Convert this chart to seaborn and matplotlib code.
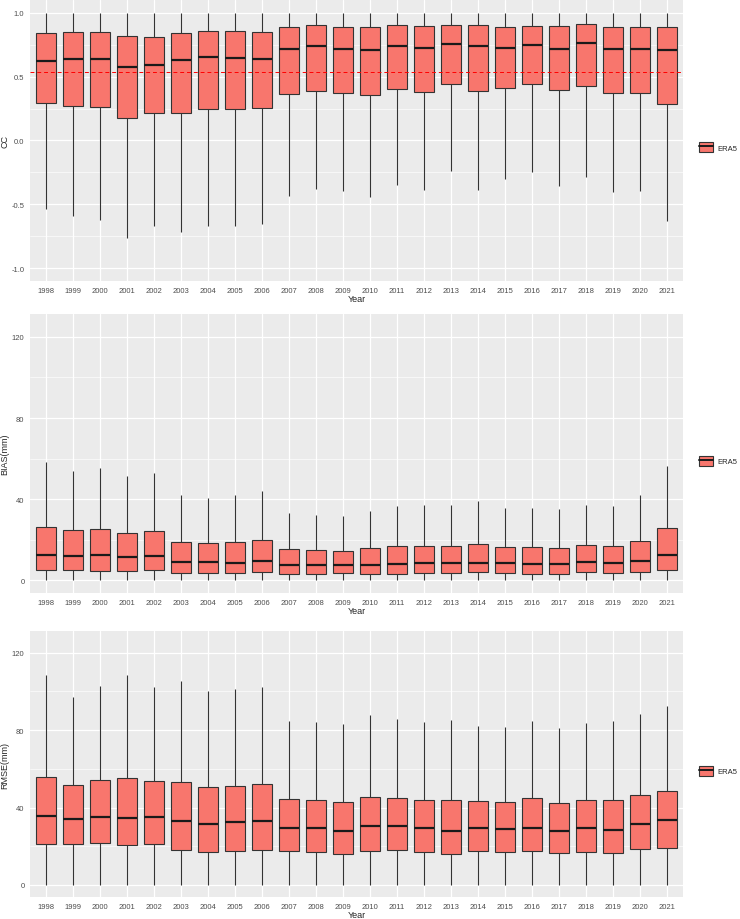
import numpy as np
import pandas as pd
import matplotlib
matplotlib.use("Agg")
import matplotlib.pyplot as plt
from matplotlib.patches import Patch
from matplotlib.lines import Line2D
from matplotlib.ticker import MultipleLocator, FormatStrFormatter
import seaborn as sns

# years on the x axis
years = ["1998", "1999", "2000", "2001", "2002", "2003", "2004", "2005",
         "2006", "2007", "2008", "2009", "2010", "2011", "2012", "2013",
         "2014", "2015", "2016", "2017", "2018", "2019", "2020", "2021"]

# CC box stats per year (min, q1, median, q3, max)
cc_min = [-0.535, -0.593, -0.624, -0.765, -0.666, -0.718, -0.671, -0.671,
          -0.650, -0.431, -0.379, -0.399, -0.439, -0.352, -0.386, -0.238,
          -0.386, -0.305, -0.248, -0.360, -0.282, -0.407, -0.397, -0.627]
cc_q1 = [0.290, 0.274, 0.261, 0.180, 0.219, 0.217, 0.245, 0.243,
         0.251, 0.363, 0.389, 0.373, 0.355, 0.402, 0.381, 0.444,
         0.386, 0.413, 0.439, 0.397, 0.428, 0.368, 0.373, 0.282]
cc_med = [0.624, 0.637, 0.640, 0.577, 0.590, 0.629, 0.650, 0.645,
          0.642, 0.715, 0.739, 0.713, 0.710, 0.736, 0.726, 0.755,
          0.736, 0.723, 0.744, 0.715, 0.760, 0.713, 0.715, 0.708]
cc_q3 = [0.843, 0.849, 0.851, 0.815, 0.807, 0.843, 0.856, 0.854,
         0.851, 0.888, 0.903, 0.888, 0.885, 0.901, 0.893, 0.901,
         0.901, 0.888, 0.898, 0.898, 0.909, 0.890, 0.888, 0.888]
cc_max = [1.0, 1.0, 1.0, 1.0, 1.0, 1.0, 1.0, 1.0,
          1.0, 1.0, 1.0, 1.0, 1.0, 1.0, 1.0, 1.0,
          1.0, 1.0, 1.0, 1.0, 1.0, 1.0, 1.0, 1.0]
cc_ref = 0.535

# BIAS(mm) box stats per year
bias_min = [0, 0, 0, 0, 0, 0, 0, 0, 0, 0, 0, 0,
            0, 0, 0, 0, 0, 0, 0, 0, 0, 0, 0, 0]
bias_q1 = [5.0, 5.0, 4.7, 4.7, 5.2, 3.8, 3.8, 3.8, 3.9, 3.1, 3.1, 3.4,
           2.9, 3.3, 3.6, 3.6, 3.9, 3.6, 3.3, 3.3, 4.1, 3.8, 4.2, 4.9]
bias_med = [12.7, 12.1, 12.4, 11.4, 12.1, 9.0, 9.0, 8.8, 9.3, 7.5, 7.5, 7.7,
            7.8, 8.3, 8.6, 8.5, 8.8, 8.5, 8.3, 8.2, 9.0, 8.5, 9.6, 12.4]
bias_q3 = [26.4, 24.6, 25.4, 23.3, 24.3, 19.1, 18.4, 19.1, 20.1, 15.3, 15.0, 14.7,
           15.7, 16.8, 17.1, 17.1, 18.1, 16.5, 16.3, 16.1, 17.3, 17.1, 19.2, 25.6]
bias_max = [58.2, 53.8, 55.6, 51.5, 52.7, 42.1, 40.8, 42.2, 43.9, 33.4, 32.4, 31.8,
            34.1, 36.7, 37.3, 37.0, 39.3, 35.7, 35.9, 35.1, 37.2, 36.8, 42.1, 56.3]

# RMSE(mm) box stats per year
rmse_min = [0, 0, 0, 0, 0, 0, 0, 0, 0, 0, 0, 0,
            0, 0, 0, 0, 0, 0, 0, 0, 0, 0, 0, 0]
rmse_q1 = [21.0, 21.0, 21.7, 20.6, 21.0, 18.2, 17.0, 17.7, 18.2, 17.5, 17.2, 16.0,
           17.5, 18.1, 17.0, 16.2, 17.4, 17.2, 17.7, 16.5, 17.2, 16.7, 18.7, 18.9]
rmse_med = [35.8, 34.0, 35.1, 34.6, 35.1, 32.8, 31.6, 32.7, 33.2, 29.6, 29.4, 28.0,
            30.6, 30.3, 29.6, 27.7, 29.2, 28.7, 29.2, 27.8, 29.2, 28.5, 31.5, 33.4]
rmse_q3 = [56.0, 51.6, 54.2, 55.5, 53.5, 53.1, 50.4, 51.1, 52.1, 44.4, 44.0, 42.8,
           45.7, 45.0, 43.7, 43.8, 43.3, 43.1, 44.7, 42.5, 43.7, 44.0, 46.6, 48.3]
rmse_max = [108.3, 97.1, 102.8, 108.5, 102.5, 105.6, 100.4, 101.1, 102.3, 84.8, 84.2, 83.0,
            88.0, 85.6, 84.1, 85.4, 82.3, 81.8, 84.9, 81.0, 83.5, 84.6, 88.4, 92.3]

fill = "#F8766D"
edge = "#333333"

sns.set_theme(style="darkgrid", rc={
    "axes.facecolor": "#EBEBEB",
    "grid.color": "white",
    "xtick.major.size": 2.5,
    "ytick.major.size": 2.5,
    "xtick.major.width": 0.5,
    "ytick.major.width": 0.5,
    "xtick.color": "#4D4D4D",
    "ytick.color": "#4D4D4D",
    "xtick.major.pad": 1.5,
    "ytick.major.pad": 1.5,
})
plt.rcParams["font.family"] = ["Liberation Sans", "DejaVu Sans"]


# each year becomes five values so the box quartiles land on the stats
def to_long(lo, q1, med, q3, hi):
    rows = []
    for i, yr in enumerate(years):
        for v in (lo[i], q1[i], med[i], q3[i], hi[i]):
            rows.append((yr, v))
    return pd.DataFrame(rows, columns=["Year", "value"])


def draw_panel(ax, df, ylabel, ylim, major, minor, fmt):
    sns.boxplot(data=df, x="Year", y="value", order=years, ax=ax,
                color=fill, saturation=1, width=0.75, whis=(0, 100),
                linecolor=edge, linewidth=0.8, showcaps=False,
                showfliers=False,
                medianprops=dict(color="#1A1A1A", linewidth=1.6))
    ax.set_xlim(-0.6, len(years) - 0.4)
    ax.set_ylim(*ylim)
    ax.yaxis.set_major_locator(MultipleLocator(major))
    ax.yaxis.set_minor_locator(MultipleLocator(minor))
    ax.yaxis.set_major_formatter(FormatStrFormatter(fmt))
    ax.grid(which="major", color="white", linewidth=0.9)
    ax.grid(which="minor", axis="y", color="white", linewidth=0.45)
    ax.tick_params(axis="both", which="major", labelsize=5.5,
                   length=2.5, color="#333333")
    ax.tick_params(axis="y", which="minor", length=0)
    ax.set_xlabel("Year", fontsize=6.5, labelpad=0.5)
    ax.set_ylabel(ylabel, fontsize=6.5, labelpad=1.5)
    for s in ax.spines.values():
        s.set_visible(False)


fig = plt.figure(figsize=(7.4, 9.2), dpi=100)
ax1 = fig.add_axes([0.0405, 0.6935, 0.8824, 0.3054])
ax2 = fig.add_axes([0.0405, 0.3543, 0.8824, 0.3033])
ax3 = fig.add_axes([0.0405, 0.0239, 0.8824, 0.2891])

draw_panel(ax1, to_long(cc_min, cc_q1, cc_med, cc_q3, cc_max),
           "CC", (-1.1, 1.1), 0.5, 0.25, "%.1f")
ax1.axhline(cc_ref, color="red", linestyle=(0, (4, 3)), linewidth=0.7)

draw_panel(ax2, to_long(bias_min, bias_q1, bias_med, bias_q3, bias_max),
           "BIAS(mm)", (-6.25, 131.25), 40, 20, "%d")
draw_panel(ax3, to_long(rmse_min, rmse_q1, rmse_med, rmse_q3, rmse_max),
           "RMSE(mm)", (-6.25, 131.25), 40, 20, "%d")

# ggplot-like legend key: box with median line
for yc in (0.839, 0.498, 0.161):
    handle = (Patch(facecolor=fill, edgecolor=edge, linewidth=0.8),
              Line2D([], [], color="#1A1A1A", linewidth=1.4))
    fig.legend(handles=[handle], labels=["ERA5"], loc="center left",
               bbox_to_anchor=(0.935, yc), frameon=False, fontsize=5.5,
               handlelength=1.9, handleheight=1.6, handletextpad=0.6)

fig.savefig("out.png", dpi=100)
